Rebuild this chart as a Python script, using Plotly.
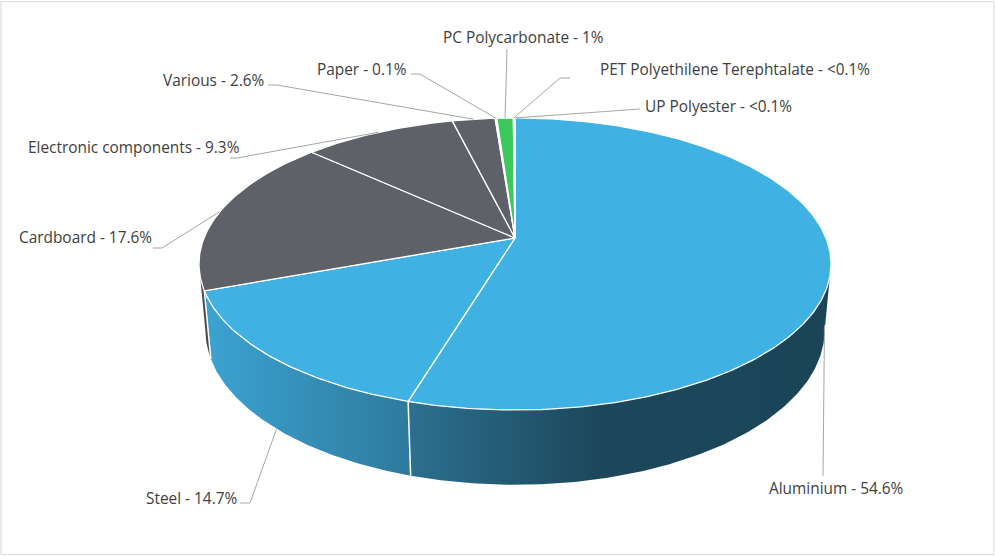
import numpy as np
import plotly.graph_objects as go

# ---------------- data ----------------
categories = ["Aluminium", "Steel", "Cardboard", "Electronic components", "Various",
              "Paper", "PC Polycarbonate", "PET Polyethilene Terephtalate", "UP Polyester"]
values = [54.6, 14.7, 17.6, 9.3, 2.6, 0.1, 1.0, 0.05, 0.05]
pct_labels = ["54.6%", "14.7%", "17.6%", "9.3%", "2.6%", "0.1%", "1%", "<0.1%", "<0.1%"]

# ---------------- styles ----------------
top_colors = ["#3FB1E3", "#3FB1E3", "#5F6168", "#5F6168", "#5F6168",
              "#F2F2F2", "#3CC95B", "#3FB1E3", "#3FB1E3"]
side_scales = [
    [[0, "#2C7090"], [0.45, "#1C475B"], [1, "#1B4457"]],
    [[0, "#3CA3D2"], [1, "#2E7A9D"]],
    [[0, "#4B4D53"], [1, "#4B4D53"]],
    [[0, "#4B4D53"], [1, "#4B4D53"]],
    [[0, "#4B4D53"], [1, "#4B4D53"]],
    [[0, "#CCCCCC"], [1, "#CCCCCC"]],
    [[0, "#2E9E47"], [1, "#2E9E47"]],
    [[0, "#2C7090"], [1, "#2C7090"]],
    [[0, "#2C7090"], [1, "#2C7090"]],
]

# perspective projection of the pie (pixel space)
CX, CY = 515.0, 238.0
A, B = 311.0, 141.4
K, M, C = 0.178, 0.02, 66.4
VIS_A, VIS_B = 100.3, 259.7   # visible side range (deg, clockwise from top)

# label layout: text position, xanchor, leader path points (after anchor), anchor depth
label_layout = [
    (836, 488, "center", [(823, 476)], 1.0),
    (239, 498, "right", [(250, 503), (240, 503)], 1.0),
    (154, 237, "right", [(162, 248), (153, 248)], 0.0),
    (241, 147, "right", [(237, 158), (230, 158)], 0.0),
    (266, 80, "right", [(277, 85), (268, 85)], 0.0),
    (408, 69, "right", [(420, 74), (411, 74)], 0.0),
    (523, 37, "center", [(507, 49)], 0.0),
    (598, 69, "left", [(560, 78), (570, 78)], 0.0),
    (643, 106, "left", [(640, 109)], 0.0),
]


def proj(theta_deg, d):
    th = np.radians(theta_deg)
    u, v = np.sin(th), np.cos(th)
    w = 1 + K * v + M * d
    return CX + A * u / w, CY - (B * v - C * d) / w


def arc(t1, t2, d):
    n = max(3, int(abs(t2 - t1) * 1.5) + 2)
    ts = np.linspace(t1, t2, n)
    xs, ys = proj(ts, d)
    return list(xs), list(ys)


total = sum(values)
bounds = np.concatenate([[0], np.cumsum(values) / total * 360.0])

fig = go.Figure()

# side faces
for i in range(len(values)):
    t1, t2 = max(bounds[i], VIS_A), min(bounds[i + 1], VIS_B)
    if t2 <= t1:
        continue
    xt, yt = arc(t1, t2, 0)
    xb, yb = arc(t2, t1, 1)
    fig.add_trace(go.Scatter(
        x=xt + xb + [xt[0]], y=yt + yb + [yt[0]], mode="lines", fill="toself",
        line=dict(width=0), fillcolor=side_scales[i][0][1],
        fillgradient=dict(type="horizontal", colorscale=side_scales[i]),
        hoverinfo="skip", showlegend=False))

# white separators on the side
for b in bounds[1:-1]:
    if VIS_A < b < VIS_B:
        x0, y0 = proj(b, 0)
        x1, y1 = proj(b, 1)
        fig.add_trace(go.Scatter(x=[x0, x1], y=[y0, y1], mode="lines",
                                 line=dict(color="white", width=1.5),
                                 hoverinfo="skip", showlegend=False))

# top faces
for i in range(len(values)):
    xs, ys = arc(bounds[i], bounds[i + 1], 0)
    fig.add_trace(go.Scatter(
        x=[CX] + xs + [CX], y=[CY] + ys + [CY], mode="lines", fill="toself",
        fillcolor=top_colors[i], line=dict(color="white", width=1.3),
        name=categories[i], hoverinfo="skip", showlegend=False))

# labels + leader lines
annotations = []
for i in range(len(values)):
    tx, ty, xa, pts, dep = label_layout[i]
    mid = (bounds[i] + bounds[i + 1]) / 2
    ax, ay = proj(mid, dep)
    lx = [ax] + [p[0] for p in pts]
    ly = [ay] + [p[1] for p in pts]
    fig.add_trace(go.Scatter(x=lx, y=ly, mode="lines",
                             line=dict(color="#A6A6A6", width=1),
                             hoverinfo="skip", showlegend=False))
    annotations.append(dict(x=tx, y=ty, xref="x", yref="y", xanchor=xa, yanchor="middle",
                            text=f"{categories[i]} - {pct_labels[i]}", showarrow=False,
                            font=dict(family="Open Sans", size=15.4, color="#404040")))

fig.update_layout(
    width=996, height=556, margin=dict(l=0, r=0, t=0, b=0),
    paper_bgcolor="white", plot_bgcolor="white",
    xaxis=dict(range=[0, 996], visible=False, fixedrange=True),
    yaxis=dict(range=[556, 0], visible=False, fixedrange=True),
    annotations=annotations,
    shapes=[dict(type="rect", xref="paper", yref="paper", x0=0.001, y0=0.003, x1=0.998, y1=0.997,
                 line=dict(color="#D9D9D9", width=1))],
)

fig.write_html("out.html", config={"displayModeBar": False},
               post_script="document.body.style.margin='0';document.body.style.overflow='hidden';")
